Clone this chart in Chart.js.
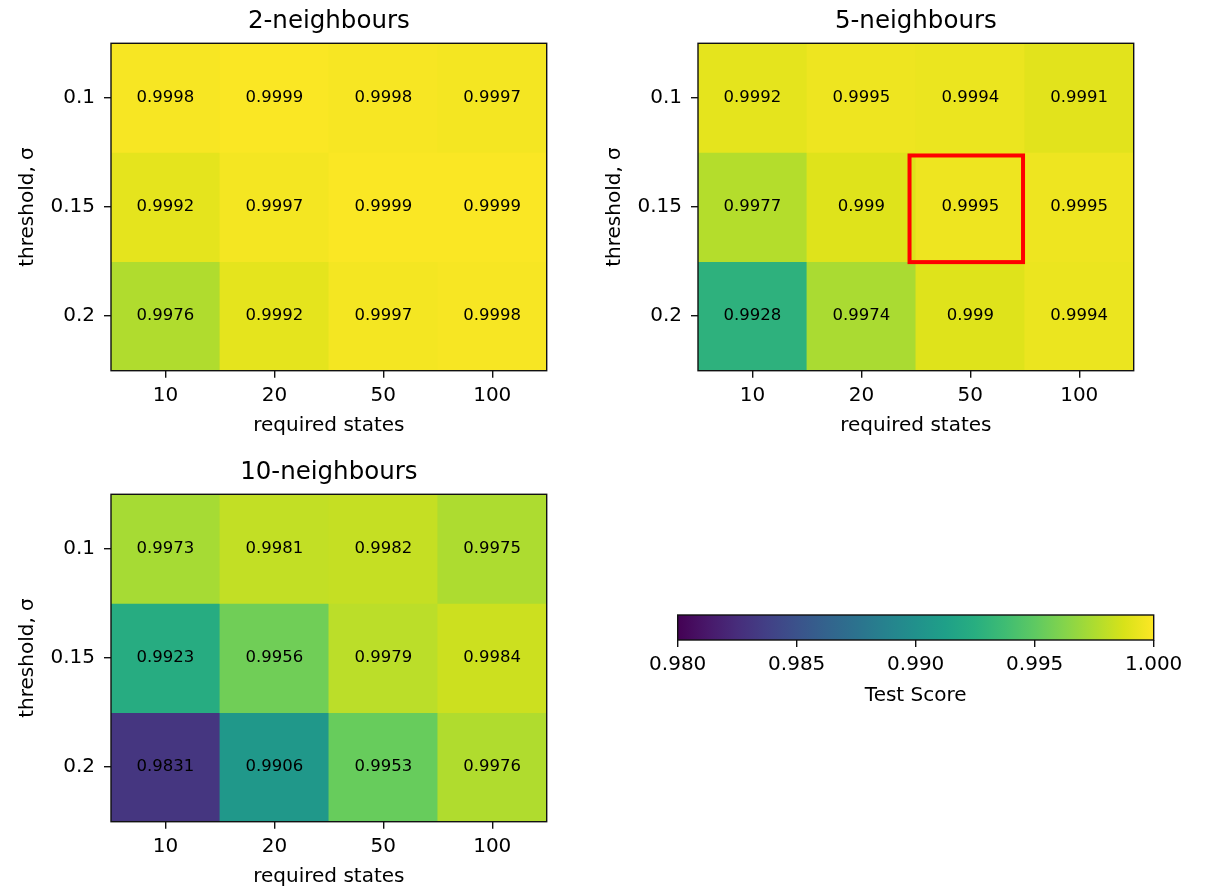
<!DOCTYPE html>
<html>
<head>
<meta charset="utf-8">
<title>Test score grid</title>
<script src="https://cdn.jsdelivr.net/npm/chart.js@4.4.0/dist/chart.umd.min.js"></script>
<style>
  html, body { margin: 0; padding: 0; background: #fff; overflow: hidden; }
  #wrap { position: relative; width: 1207px; height: 887px; }
  canvas { position: absolute; }
</style>
</head>
<body>
<div id="wrap">
  <canvas id="heat2" width="600" height="440" style="left:0;top:0"></canvas>
  <canvas id="heat5" width="600" height="440" style="left:587px;top:0"></canvas>
  <canvas id="heat10" width="600" height="440" style="left:0;top:451px"></canvas>
  <canvas id="colorbar" width="607" height="130" style="left:600px;top:580px"></canvas>
</div>
<script>
const requiredStates = ['10', '20', '50', '100'];
const thresholds = ['0.1', '0.15', '0.2'];

// one row per threshold, columns follow requiredStates
const scores2 = [
  [0.9998, 0.9999, 0.9998, 0.9997],
  [0.9992, 0.9997, 0.9999, 0.9999],
  [0.9976, 0.9992, 0.9997, 0.9998]
];
const scores5 = [
  [0.9992, 0.9995, 0.9994, 0.9991],
  [0.9977, 0.999, 0.9995, 0.9995],
  [0.9928, 0.9974, 0.999, 0.9994]
];
const scores10 = [
  [0.9973, 0.9981, 0.9982, 0.9975],
  [0.9923, 0.9956, 0.9979, 0.9984],
  [0.9831, 0.9906, 0.9953, 0.9976]
];

const scoreMin = 0.98;
const scoreMax = 1.0;
const colorbarTicks = [0.98, 0.985, 0.99, 0.995, 1.0];

// chosen setting (threshold 0.15, 50 states) on the 5-neighbours map
const bestRow = 1;
const bestCol = 2;

Chart.defaults.font.family = "'DejaVu Sans', sans-serif";
Chart.defaults.color = '#000';

// viridis sampled every 1/16
const viridis = [
  '#440154', '#48186a', '#472d7b', '#424086', '#3b528b', '#33638d',
  '#2c728e', '#26828e', '#21918c', '#1fa088', '#28ae80', '#3fbc73',
  '#5ec962', '#84d44b', '#addc30', '#d8e219', '#fde725'
];

function hexToRgb(h) {
  return [1, 3, 5].map(i => parseInt(h.slice(i, i + 2), 16));
}

function viridisAt(t) {
  t = Math.min(1, Math.max(0, t));
  const pos = t * (viridis.length - 1);
  const i = Math.min(Math.floor(pos), viridis.length - 2);
  const f = pos - i;
  const a = hexToRgb(viridis[i]);
  const b = hexToRgb(viridis[i + 1]);
  const c = a.map((v, k) => Math.round(v + (b[k] - v) * f));
  return `rgb(${c[0]}, ${c[1]}, ${c[2]})`;
}

function scoreColor(v) {
  return viridisAt((v - scoreMin) / (scoreMax - scoreMin));
}

// value text in the middle of every cell
const cellLabels = {
  id: 'cellLabels',
  afterDatasetsDraw(chart) {
    const ctx = chart.ctx;
    ctx.save();
    ctx.font = "16.5px 'DejaVu Sans'";
    ctx.fillStyle = '#000';
    ctx.textAlign = 'center';
    ctx.textBaseline = 'middle';
    chart.data.datasets.forEach((ds, r) => {
      chart.getDatasetMeta(r).data.forEach((bar, c) => {
        ctx.fillText(String(ds.scores[c]), bar.x, (bar.y + bar.base) / 2);
      });
    });
    ctx.restore();
  }
};

// box around the whole plot area, like axes spines
const frame = {
  id: 'frame',
  afterDraw(chart) {
    const { left, top, right, bottom } = chart.chartArea;
    const ctx = chart.ctx;
    ctx.save();
    ctx.strokeStyle = '#111';
    ctx.lineWidth = 1.4;
    ctx.strokeRect(left, top, right - left, bottom - top);
    ctx.restore();
  }
};

// red outline around one cell
const highlight = {
  id: 'highlight',
  afterDraw(chart, args, opts) {
    if (!opts || opts.row === undefined) return;
    const xs = chart.scales.x;
    const ys = chart.scales.y;
    const cellW = xs.width / requiredStates.length;
    const x0 = xs.getPixelForValue(opts.col) - cellW / 2;
    const left = x0 - 0.058 * cellW;
    const right = x0 + 0.984 * cellW;
    const top = ys.getPixelForValue(opts.row + 0.028);
    const bottom = ys.getPixelForValue(opts.row + 1.005);
    const ctx = chart.ctx;
    ctx.save();
    ctx.strokeStyle = '#ff0000';
    ctx.lineWidth = 4;
    ctx.strokeRect(left, top, right - left, bottom - top);
    ctx.restore();
  }
};

const tickGrid = {
  display: true,
  drawOnChartArea: false,
  offset: false,
  tickLength: 7,
  color: '#111',
  lineWidth: 1.4
};

function heatmap(id, title, scores, mark) {
  return new Chart(document.getElementById(id), {
    type: 'bar',
    data: {
      labels: requiredStates,
      datasets: scores.map((row, r) => ({
        data: row.map(() => [r, r + 1]),
        scores: row,
        backgroundColor: row.map(scoreColor),
        borderWidth: 0,
        barPercentage: 1,
        categoryPercentage: 1,
        grouped: false
      }))
    },
    options: {
      responsive: false,
      animation: false,
      events: [],
      layout: { padding: { left: 0, top: 0, right: 53.3, bottom: 0 } },
      plugins: {
        legend: { display: false },
        tooltip: { enabled: false },
        title: {
          display: true,
          text: title,
          fullSize: false,
          color: '#000',
          font: { size: 24.5, weight: 'normal' },
          padding: { top: 7.3, bottom: 6.6 }
        },
        highlight: mark || {}
      },
      scales: {
        x: {
          type: 'category',
          offset: true,
          grid: tickGrid,
          border: { display: false },
          ticks: { font: { size: 20 }, padding: 6, maxRotation: 0, autoSkip: false },
          title: {
            display: true,
            text: 'required states',
            font: { size: 20 },
            padding: { top: 0, bottom: 2 }
          },
          afterFit(scale) { scale.height = 69.3; }
        },
        y: {
          type: 'linear',
          min: 0,
          max: thresholds.length,
          reverse: true,
          afterBuildTicks(scale) {
            scale.ticks = thresholds.map((_, i) => ({ value: i + 0.5 }));
          },
          grid: tickGrid,
          border: { display: false },
          ticks: {
            font: { size: 20 },
            padding: 9,
            callback: (v, i) => thresholds[i]
          },
          title: {
            display: true,
            text: 'threshold, σ',
            font: { size: 20 },
            padding: { top: 16, bottom: 0 }
          },
          afterFit(scale) { scale.width = 111; }
        }
      }
    },
    plugins: [cellLabels, frame, highlight]
  });
}

heatmap('heat2', '2-neighbours', scores2);
heatmap('heat5', '5-neighbours', scores5, { row: bestRow, col: bestCol });
heatmap('heat10', '10-neighbours', scores10);

// colour ramp painted across the colour bar's x scale
const gradientBar = {
  id: 'gradientBar',
  beforeDatasetsDraw(chart) {
    const { left, top, right, bottom } = chart.chartArea;
    const ctx = chart.ctx;
    const g = ctx.createLinearGradient(left, 0, right, 0);
    viridis.forEach((c, i) => g.addColorStop(i / (viridis.length - 1), c));
    ctx.save();
    ctx.fillStyle = g;
    ctx.fillRect(left, top, right - left, bottom - top);
    ctx.restore();
  }
};

new Chart(document.getElementById('colorbar'), {
  type: 'scatter',
  data: { datasets: [{ data: [] }] },
  options: {
    responsive: false,
    animation: false,
    events: [],
    layout: { padding: { left: 77.7, right: 53.3, top: 35, bottom: 0 } },
    plugins: {
      legend: { display: false },
      tooltip: { enabled: false }
    },
    scales: {
      x: {
        type: 'linear',
        min: scoreMin,
        max: scoreMax,
        afterBuildTicks(scale) {
          scale.ticks = colorbarTicks.map(v => ({ value: v }));
        },
        grid: tickGrid,
        border: { display: false },
        ticks: {
          font: { size: 20 },
          padding: 6,
          maxRotation: 0,
          autoSkip: false,
          callback: v => v.toFixed(3)
        },
        title: {
          display: true,
          text: 'Test Score',
          font: { size: 20 },
          padding: { top: 0, bottom: 2 }
        },
        afterFit(scale) { scale.height = 70; }
      },
      y: { display: false, min: 0, max: 1 }
    }
  },
  plugins: [gradientBar, frame]
});
</script>
</body>
</html>
